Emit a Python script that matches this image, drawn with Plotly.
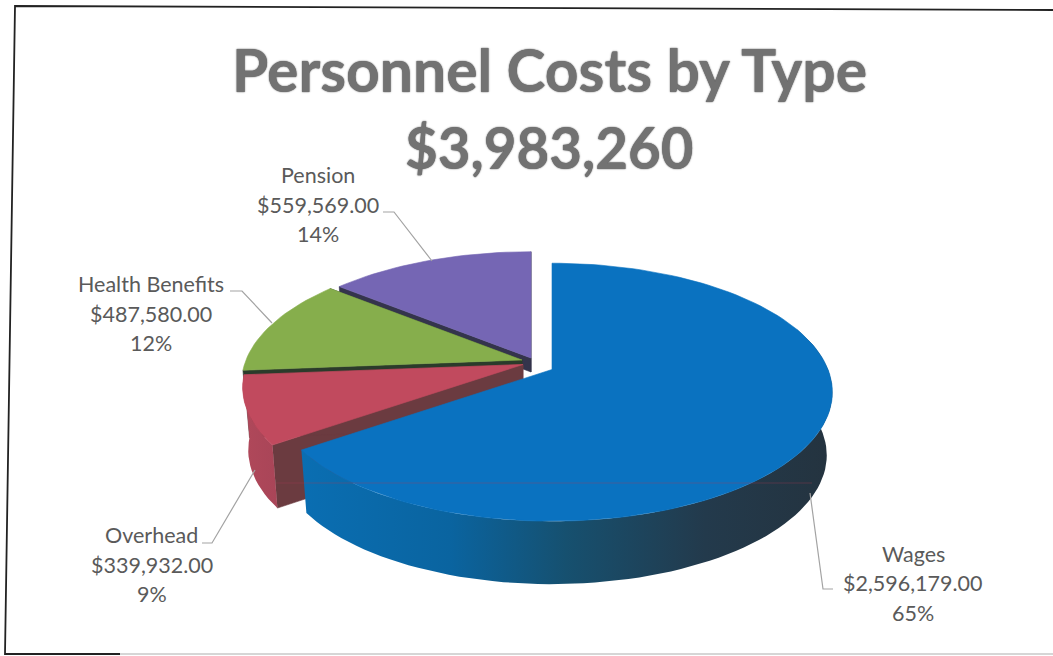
import math
import plotly.graph_objects as go

# Chart data
categories = ["Wages", "Overhead", "Health Benefits", "Pension"]
costs = [2596179.00, 339932.00, 487580.00, 559569.00]
percent_labels = ["65%", "9%", "12%", "14%"]
title_lines = ["Personnel Costs by Type", "$3,983,260"]

# Slice styling, in the same order as the categories
top_colors = ["#0A72C0", "#C14A5E", "#86AE4C", "#7566B4"]
cut_colors = ["#10405E", "#6B3B40", "#2B3B2B", "#34344C"]
apex_points = [(552, 369.5), (523, 364.5), (522, 360), (531, 358)]
cut_depths = [0, 63, 9, 14]

# Pie projection: tilted disc with a mild perspective
RX, RY, PERSPECTIVE, DEPTH, FLOOR_SCALE = 276, 125, 0.176, 63, 0.98
total = sum(costs)


def project(apex, turn, radius=1.0):
    """Screen position of a point on the disc; turn runs clockwise from 12 o'clock."""
    u = radius * math.sin(turn)
    v = radius * math.cos(turn)
    f = 1 / (1 + PERSPECTIVE * v)
    return apex[0] + u * f * RX, apex[1] - v * f * RY


def polygon(points, color=None, gradient=None):
    trace = dict(
        x=[p[0] for p in points] + [points[0][0]],
        y=[p[1] for p in points] + [points[0][1]],
        mode="lines",
        fill="toself",
        hoverinfo="skip",
        showlegend=False,
    )
    if gradient:
        trace["fillgradient"] = dict(type="horizontal", colorscale=gradient)
        trace["line"] = dict(width=0)
    else:
        trace["fillcolor"] = color
        trace["line"] = dict(color=color, width=0.6)
    return go.Scatter(**trace)


def lower(point, apex, depth=DEPTH):
    """Point on the underside of the disc: dropped by the depth, drawn slightly inward."""
    scale = 1 - (1 - FLOOR_SCALE) * depth / DEPTH
    return apex[0] + (point[0] - apex[0]) * scale, point[1] + depth


# Angular extent of each slice
spans = []
running = 0.0
for value in costs:
    start = running
    running += value / total * 2 * math.pi
    spans.append((start, running))

# Outer-wall fills: wages darkens from left to right, overhead is a flat darker red
wages_wall = [[0, "#0A6EB2"], [0.28, "#0A64A0"], [0.5, "#16506F"], [0.76, "#233A4C"], [1, "#24333F"]]
overhead_wall = [[0, "#B0485A"], [1, "#A94558"]]

fig = go.Figure()

# Back to front: pension, health benefits, overhead, wages
for i in (3, 2, 1, 0):
    start, end = spans[i]
    apex = apex_points[i]
    steps = max(8, int((end - start) / math.radians(2)))
    turns = [start + (end - start) * k / steps for k in range(steps + 1)]
    rim = [project(apex, t) for t in turns]

    # Cut faces
    if cut_depths[i]:
        d = cut_depths[i]
        for edge in (rim[0], rim[-1]):
            fig.add_trace(polygon([apex, edge, lower(edge, apex, d), lower(apex, apex, d)], cut_colors[i]))

    # Outer wall, seen only on the two front slices
    if i == 0:
        visible = [p for p, t in zip(rim, turns) if t >= math.radians(70)]
        fig.add_trace(polygon(visible + [lower(p, apex) for p in reversed(visible)], gradient=wages_wall))
    elif i == 1:
        fig.add_trace(polygon(rim + [lower(p, apex) for p in reversed(rim)], gradient=overhead_wall))

    # Top face
    fig.add_trace(polygon([apex] + rim, top_colors[i]))

# Leader lines from the labels to the slices
leaders = [
    ([833, 823, 810], [589, 589, 493]),
    ([202, 212, 255], [543, 543, 470]),
    ([230, 242, 272], [291, 291, 323]),
    ([383, 394, 432], [212, 212, 261]),
]
for xs, ys in leaders:
    fig.add_trace(go.Scatter(x=xs, y=ys, mode="lines", line=dict(color="#A3A3A3", width=1.2),
                             hoverinfo="skip", showlegend=False))

# Faint rule across the pie
fig.add_trace(go.Scatter(x=[276, 812], y=[483, 483], mode="lines",
                         line=dict(color="rgba(170,60,80,0.35)", width=1),
                         hoverinfo="skip", showlegend=False))

# Frame
fig.add_trace(go.Scatter(x=[1053, 15, 5, 120], y=[10, 6, 654, 654], mode="lines",
                         line=dict(color="#222222", width=1.8), hoverinfo="skip", showlegend=False))
fig.add_trace(go.Scatter(x=[120, 1053], y=[654, 654], mode="lines",
                         line=dict(color="#C8C8C8", width=1.5), hoverinfo="skip", showlegend=False))

# Data labels, one annotation per line so the leading can be set directly
label_centers = [(913, 583), (151.5, 564.5), (151, 313.5), (318, 204.5)]
LEADING = 29.5
for name, value, pct, (cx, cy) in zip(categories, costs, percent_labels, label_centers):
    for offset, text in zip((-LEADING, 0, LEADING), (name, f"${value:,.2f}", pct)):
        fig.add_annotation(
            x=cx, y=cy + offset, xref="x", yref="y", showarrow=False, text=text,
            font=dict(family="Lato", size=21.5, color="#5A5A5A"),
        )

# Two-line heading
for line, y, size in zip(title_lines, [69, 147], [58.8, 56.5]):
    fig.add_annotation(
        x=549, y=y, xref="x", yref="y", showarrow=False, text=f"<b>{line}</b>",
        font=dict(family="Lato", size=size, color="#727272", shadow="0 0 1.5px #333333"),
    )

fig.update_layout(
    width=1053, height=656, margin=dict(l=0, r=0, t=0, b=0),
    paper_bgcolor="white", plot_bgcolor="white", showlegend=False,
    xaxis=dict(range=[0, 1053], visible=False, fixedrange=True),
    yaxis=dict(range=[656, 0], visible=False, fixedrange=True),
)
fig.write_html("out.html")
